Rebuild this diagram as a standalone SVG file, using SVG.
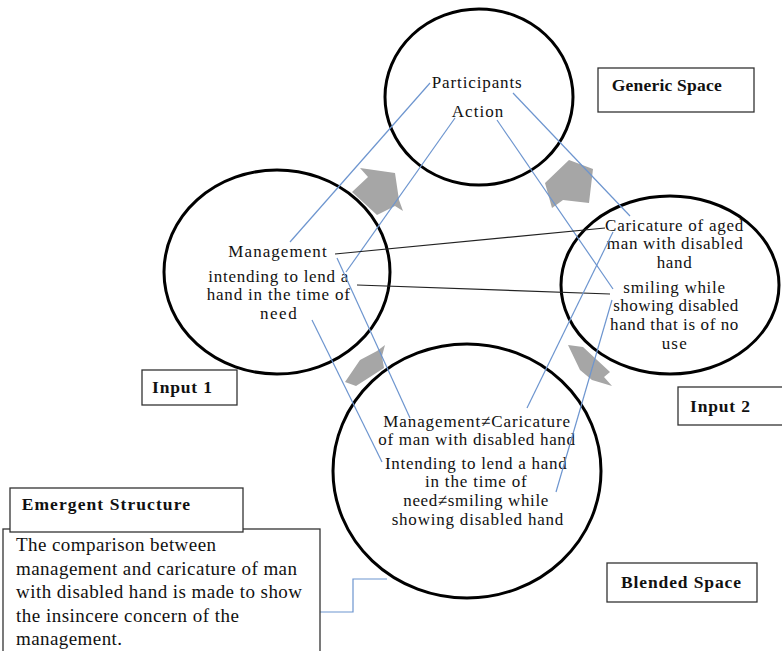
<svg xmlns="http://www.w3.org/2000/svg" width="782" height="651" viewBox="0 0 782 651">
  <style>
    .space { fill: none; stroke: #000; stroke-width: 3; }
    .box { fill: #fff; stroke: #333; stroke-width: 1.3; }
    .t { font-family: "Liberation Serif", "Times New Roman", serif; font-size: 17px; fill: #111; text-anchor: middle; }
    .lbl { font-family: "Liberation Serif", "Times New Roman", serif; font-size: 17.5px; font-weight: bold; fill: #111; }
    .body { font-family: "Liberation Serif", "Times New Roman", serif; font-size: 19px; fill: #111; }
    .map { stroke: #6d95cf; stroke-width: 1.2; fill: none; }
    .cross { stroke: #222; stroke-width: 1.2; fill: none; }
    .arrow { fill: #a6a6a6; }
  </style>
  <rect width="782" height="651" fill="#fff"/>

  <!-- mental spaces -->
  <g id="generic-space">
    <ellipse class="space" cx="479" cy="97" rx="94" ry="88"/>
    <text class="t" x="476.7" y="88" textLength="90" lengthAdjust="spacing">Participants</text>
    <text class="t" x="477.5" y="117" textLength="51.7" lengthAdjust="spacing">Action</text>
  </g>
  <g id="input-1">
    <ellipse class="space" cx="277" cy="272" rx="113" ry="102"/>
    <text class="t" x="277.5" y="257" textLength="98.3" lengthAdjust="spacing">Management</text>
    <text class="t" x="278.3" y="281.5" textLength="140" lengthAdjust="spacing">intending  to lend a</text>
    <text class="t" x="278.3" y="300.4" textLength="143.3" lengthAdjust="spacing">hand in the time of</text>
    <text class="t" x="278.3" y="319.3" textLength="36.7" lengthAdjust="spacing">need</text>
  </g>
  <g id="input-2">
    <ellipse class="space" cx="670" cy="285" rx="109" ry="89"/>
    <text class="t" x="674.2" y="230.5" textLength="138.3" lengthAdjust="spacing">Caricature of aged</text>
    <text class="t" x="674.7" y="249.4" textLength="136" lengthAdjust="spacing">man with disabled</text>
    <text class="t" x="674.2" y="268.3" textLength="35" lengthAdjust="spacing">hand</text>
    <text class="t" x="674.2" y="292.5" textLength="101.7" lengthAdjust="spacing">smiling  while</text>
    <text class="t" x="675.8" y="311.4" textLength="125" lengthAdjust="spacing">showing disabled</text>
    <text class="t" x="674.2" y="330.3" textLength="128.3" lengthAdjust="spacing">hand that is of no</text>
    <text class="t" x="674.2" y="349.2" textLength="25" lengthAdjust="spacing">use</text>
  </g>
  <g id="blended-space">
    <ellipse class="space" cx="467" cy="471" rx="134" ry="127"/>
    <text class="t" x="476.7" y="426.5" textLength="186.7" lengthAdjust="spacing">Management≠Caricature</text>
    <text class="t" x="476.7" y="445.4" textLength="196.7" lengthAdjust="spacing">of man with disabled hand</text>
    <text class="t" x="475.8" y="468.5" textLength="181.7" lengthAdjust="spacing">Intending  to lend a hand</text>
    <text class="t" x="475.8" y="487.4" textLength="101.7" lengthAdjust="spacing">in the time of</text>
    <text class="t" x="475.8" y="506.3" textLength="145" lengthAdjust="spacing">need≠smiling  while</text>
    <text class="t" x="477.5" y="525.2" textLength="171.7" lengthAdjust="spacing">showing disabled hand</text>
  </g>

  <!-- block arrows between spaces -->
  <g id="projection-arrows">
    <polygon class="arrow" points="360,168 395,173 399,200 403,211 395,206 377,215 352,192 368,177"/>
    <polygon class="arrow" points="545,183 569,160 593,169 589,203 563,200 552,208"/>
    <polygon class="arrow" points="345,382 360,360 377,351 385,345 382,356 384,368 356,386"/>
    <polygon class="arrow" points="568,345 583,347 610,372 604,377 612,386 592,380 580,370"/>
  </g>

  <!-- connectors -->
  <g id="connectors">
    <line class="map" x1="430" y1="83" x2="290" y2="242"/>
    <line class="map" x1="455" y1="118" x2="346" y2="272"/>
    <line class="map" x1="513" y1="93" x2="630" y2="216"/>
    <line class="map" x1="497" y1="120" x2="613" y2="289"/>
    <line class="cross" x1="335" y1="254" x2="605" y2="228"/>
    <line class="cross" x1="357" y1="285" x2="610" y2="294"/>
    <line class="map" x1="337" y1="258" x2="410" y2="418"/>
    <line class="map" x1="312" y1="320" x2="382" y2="462"/>
    <line class="map" x1="613" y1="232" x2="527" y2="408"/>
    <line class="map" x1="612" y1="300" x2="556" y2="492"/>
    <polyline class="map" points="320,612 353,612 353,579 387,579"/>
  </g>

  <!-- labels -->
  <g id="label-generic">
    <rect class="box" x="598" y="68" width="156" height="44"/>
    <text class="lbl" x="611.7" y="91" textLength="110" lengthAdjust="spacing">Generic Space</text>
  </g>
  <g id="label-input-1">
    <rect class="box" x="142" y="370" width="95" height="35"/>
    <text class="lbl" x="152" y="393" textLength="60" lengthAdjust="spacing">Input 1</text>
  </g>
  <g id="label-input-2">
    <rect class="box" x="678" y="387" width="110" height="38"/>
    <text class="lbl" x="690" y="412" textLength="60" lengthAdjust="spacing">Input 2</text>
  </g>
  <g id="label-blended">
    <rect class="box" x="607" y="563" width="150" height="39"/>
    <text class="lbl" x="621" y="588" textLength="120" lengthAdjust="spacing">Blended Space</text>
  </g>
  <g id="emergent-structure">
    <rect class="box" x="3" y="529" width="317" height="130"/>
    <rect class="box" x="10" y="488" width="233" height="44"/>
    <text class="lbl" x="21.7" y="510" textLength="168.3" lengthAdjust="spacing">Emergent Structure</text>
    <text class="body" x="16" y="551" textLength="200" lengthAdjust="spacing">The comparison between</text>
    <text class="body" x="16" y="574.5" textLength="281" lengthAdjust="spacing">management and caricature of man</text>
    <text class="body" x="16" y="598" textLength="286" lengthAdjust="spacing">with disabled hand is made to show</text>
    <text class="body" x="16" y="621.5" textLength="223" lengthAdjust="spacing">the insincere concern of the</text>
    <text class="body" x="16" y="645" textLength="106" lengthAdjust="spacing">management.</text>
  </g>
</svg>
